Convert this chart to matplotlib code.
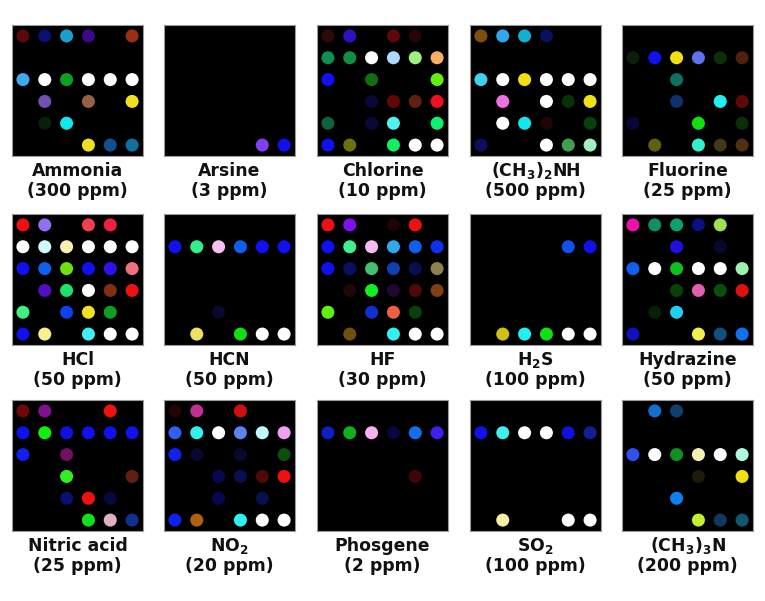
import matplotlib
matplotlib.use("Agg")
import matplotlib.pyplot as plt

plt.rcParams['font.family'] = ['DejaVu Sans']
plt.rcParams['mathtext.fontset'] = 'custom'
plt.rcParams['mathtext.rm'] = 'DejaVu Sans:bold'
plt.rcParams['mathtext.it'] = 'DejaVu Sans:bold'
plt.rcParams['mathtext.bf'] = 'DejaVu Sans:bold'

_ = None          # spot with no visible response
W = "#ffffff"

# 6x6 colour responses of the sensor array, one grid per analyte (top row first)
ammonia = [
    ["#5a0a0a", "#0a1070", "#1aa0d0", "#3a0a8a", _, "#9a3010"],
    [_, _, _, _, _, _],
    ["#40a8f0", W, "#10a020", W, W, W],
    [_, "#7050b0", _, "#986040", _, "#f0e020"],
    [_, "#082008", "#10e8f0", _, _, _],
    [_, _, _, "#f0e020", "#105090", "#1070a0"],
]
arsine = [
    [_, _, _, _, _, _],
    [_, _, _, _, _, _],
    [_, _, _, _, _, _],
    [_, _, _, _, _, _],
    [_, _, _, _, _, _],
    [_, _, _, _, "#8040f0", "#1010f0"],
]
chlorine = [
    ["#300808", "#3010c0", _, "#600808", "#250505", _],
    ["#109050", "#109040", W, "#b0d8f8", "#a0f080", "#f8b060"],
    ["#1010f0", _, "#107010", _, _, "#60f010"],
    [_, _, "#08083a", "#600808", "#602010", "#f01020"],
    ["#106040", _, "#08083a", "#50f0f0", _, "#10f070"],
    ["#1010f0", "#707010", _, "#10f060", W, W],
]
dimethylamine = [
    ["#805008", "#30a8f0", "#10b0d0", "#0a1060", _, _],
    [_, _, _, _, _, _],
    ["#40d0f0", W, "#f0e010", W, W, W],
    [_, "#f070e0", _, W, "#0a300a", "#f0e010"],
    [_, W, "#10e8f0", "#200505", _, "#0a400a"],
    ["#0a1060", _, _, W, "#40a050", "#a0f0c0"],
]
fluorine = [
    [_, _, _, _, _, _],
    ["#0a200a", "#1010f0", "#f0e010", "#6070f0", "#0a300a", "#502010"],
    [_, _, "#107060", _, _, _],
    [_, _, "#103070", _, "#20f0f0", "#600808"],
    ["#080838", _, _, "#10e010", _, "#0a300a"],
    [_, "#606010", _, "#30f0d0", "#403818", "#503010"],
]
hcl = [
    ["#f01010", "#9070f0", _, "#f04050", "#f02040", _],
    [W, "#d0f8f8", "#f8f0b0", W, W, W],
    ["#1010f0", "#1060f0", "#70e010", "#1010f0", "#3010f0", "#f07080"],
    [_, "#5010c0", "#20e070", W, "#803010", "#f01010"],
    ["#40f080", _, "#1040f0", "#f0e020", "#10a020", _],
    ["#1010f0", "#f8f090", _, "#40f0f0", W, W],
]
hcn = [
    [_, _, _, _, _, _],
    ["#1010f0", "#30f090", "#f8c0f0", "#1060f0", "#1010f0", "#1010f0"],
    [_, _, _, _, _, _],
    [_, _, _, _, _, _],
    [_, _, "#080830", _, _, _],
    [_, "#f0e060", _, "#10e010", W, W],
]
hf = [
    ["#f01010", "#8010f0", _, "#200505", "#f01010", _],
    ["#1010f0", "#40f090", "#f8b8f0", "#30a8f0", "#1060f0", "#1030f0"],
    ["#1010f0", "#081060", "#40c070", "#1040b0", "#081050", "#908050"],
    [_, "#200808", "#10f020", "#200830", "#500808", "#804010"],
    ["#60f010", _, "#1030d0", "#f06040", "#0a400a", _],
    [_, "#705010", _, "#30f0f0", W, W],
]
h2s = [
    [_, _, _, _, _, _],
    [_, _, _, _, "#1050f0", "#1010f0"],
    [_, _, _, _, _, _],
    [_, _, _, _, _, _],
    [_, _, _, _, _, _],
    [_, "#d0c010", "#20f0f0", "#10e010", W, W],
]
hydrazine = [
    ["#f010b0", "#109060", "#10a070", "#0a1080", "#a0e050", _],
    [_, _, "#2010e0", _, "#080830", _],
    ["#1060f0", W, "#10c020", W, W, "#a0f0b0"],
    [_, _, "#0a400a", "#e060b0", "#0a500a", "#e01010"],
    [_, "#082008", "#20d0f0", _, _, _],
    ["#1010c0", _, _, "#f0f050", "#105080", "#1070f0"],
]
nitric_acid = [
    ["#700808", "#801090", _, _, "#f01010", _],
    ["#1010f0", "#10f010", "#1010e0", "#1010f0", "#1010f0", "#1010f0"],
    ["#1020f0", _, "#701060", _, _, _],
    [_, _, "#30f020", _, _, "#602010"],
    [_, _, "#0a1070", "#f01010", "#080840", _],
    [_, _, _, "#10e020", "#e0b0c0", "#103090"],
]
no2 = [
    ["#200505", "#c03090", _, "#d01010", _, _],
    ["#3060f0", "#30f0f0", W, "#6080f0", "#c0f8f8", "#f0a0f0"],
    ["#1020f0", "#080830", _, "#080830", _, "#0a500a"],
    [_, _, "#080850", "#081050", "#500808", "#f01010"],
    [_, _, "#080850", _, "#081050", _],
    ["#1020f0", "#b06010", _, "#30f0f0", W, W],
]
phosgene = [
    [_, _, _, _, _, _],
    ["#1020c0", "#10b020", "#f8b0f0", "#080840", "#1070f0", "#4020f0"],
    [_, _, _, _, _, _],
    [_, _, _, _, "#400505", _],
    [_, _, _, _, _, _],
    [_, _, _, _, _, _],
]
so2 = [
    [_, _, _, _, _, _],
    ["#1010f0", "#40f0f0", W, W, "#1010e0", "#102090"],
    [_, _, _, _, _, _],
    [_, _, _, _, _, _],
    [_, _, _, _, _, _],
    [_, "#f8f0a0", _, _, W, W],
]
trimethylamine = [
    [_, "#1070d0", "#104070", _, _, _],
    [_, _, _, _, _, _],
    ["#3050f0", W, "#109020", "#f8f0b0", W, "#b0f8e0"],
    [_, _, _, "#201a08", _, "#f0e010"],
    [_, _, "#1080f0", _, _, _],
    [_, _, _, "#c0f030", "#103860", "#105870"],
]

grids = [ammonia, arsine, chlorine, dimethylamine, fluorine,
         hcl, hcn, hf, h2s, hydrazine,
         nitric_acid, no2, phosgene, so2, trimethylamine]
names = ["Ammonia", "Arsine", "Chlorine", "(CH$_3$)$_2$NH", "Fluorine",
         "HCl", "HCN", "HF", "H$_2$S", "Hydrazine",
         "Nitric acid", "NO$_2$", "Phosgene", "SO$_2$", "(CH$_3$)$_3$N"]
concs = ["(300 ppm)", "(3 ppm)", "(10 ppm)", "(500 ppm)", "(25 ppm)",
         "(50 ppm)", "(50 ppm)", "(30 ppm)", "(100 ppm)", "(50 ppm)",
         "(25 ppm)", "(20 ppm)", "(2 ppm)", "(100 ppm)", "(200 ppm)"]

W_PX, H_PX = 765, 601
col_left = [12, 164, 317, 470, 622]
row_top = [25, 214, 400]
size = 131

fig = plt.figure(figsize=(W_PX / 100, H_PX / 100), dpi=100)

for k, grid in enumerate(grids):
    r, c = divmod(k, 5)
    x0, y0 = col_left[c], row_top[r]
    ax = fig.add_axes([x0 / W_PX, 1 - (y0 + size) / H_PX, size / W_PX, size / H_PX])
    ax.set_facecolor("black")
    xs, ys, cs = [], [], []
    for i, row in enumerate(grid):
        for j, col in enumerate(row):
            if col:
                xs.append(j + 0.5)
                ys.append(i + 0.5)
                cs.append(col)
    ax.scatter(xs, ys, c=cs, s=88, linewidths=0)
    ax.set_xlim(0, 6)
    ax.set_ylim(6, 0)
    ax.set_xticks([])
    ax.set_yticks([])
    for sp in ax.spines.values():
        sp.set_color("#9a9a9a")
        sp.set_linewidth(0.8)

    xc = (x0 + size / 2) / W_PX
    base = y0 + size + 20
    fig.text(xc, 1 - base / H_PX, names[k], ha="center", va="baseline",
             fontsize=12.4, fontweight="bold", color="#111111")
    fig.text(xc, 1 - (base + 20) / H_PX, concs[k], ha="center", va="baseline",
             fontsize=12.4, fontweight="bold", color="#111111")

fig.savefig("out.png", dpi=100, facecolor="white")
